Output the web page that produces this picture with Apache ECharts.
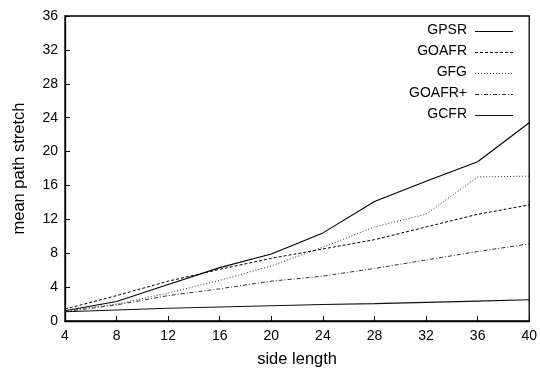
<!DOCTYPE html>
<html><head><meta charset="utf-8">
<script src="https://cdn.jsdelivr.net/npm/echarts@6/dist/echarts.min.js"></script>
<style>html,body{margin:0;padding:0;background:#fff}#c{width:540px;height:373px}</style>
</head><body><div id="c"></div>
<script>
var sideLength = [4, 8, 12, 16, 20, 24, 28, 32, 36, 40];
var gpsr   = [1.2, 2.3, 4.3, 6.3, 7.9, 10.4, 14.1, 16.5, 18.8, 23.4];
var goafr  = [1.4, 3.0, 4.7, 6.1, 7.4, 8.5, 9.6, 11.1, 12.6, 13.7];
var gfg    = [1.2, 2.0, 3.3, 4.8, 6.5, 8.7, 11.1, 12.6, 17.0, 17.1];
var goafrp = [1.1, 1.9, 3.0, 3.8, 4.7, 5.3, 6.2, 7.2, 8.2, 9.1];
var gcfr   = [1.1, 1.3, 1.5, 1.65, 1.8, 1.95, 2.05, 2.2, 2.35, 2.5];
var seriesNames = ['GPSR', 'GOAFR', 'GFG', 'GOAFR+', 'GCFR'];
var yTicks = [0, 36, 4];

function pairs(v){ return sideLength.map(function(x,i){ return [x, v[i]]; }); }
var styles = [
  {color:'#000', type:'solid', width:1.1},
  {color:'#000', type:[3,2], width:1},
  {color:'#333', type:[1,2], width:1},
  {color:'#333', type:[4,2,1,2], width:1},
  {color:'#111', type:'solid', width:1.1}
];
var datas = [gpsr, goafr, gfg, goafrp, gcfr];
var series = datas.map(function(d,i){
  return {name: seriesNames[i], type:'line', data: pairs(d), showSymbol:false, symbol:'none',
    lineStyle: styles[i], itemStyle:{color: styles[i].color}, silent:true, animation:false};
});
var font = 'Liberation Sans, Arial, sans-serif';
var graphics = [];
seriesNames.forEach(function(n,i){
  var y = 31.5 + 21 * i;
  graphics.push({type:'text', right: 540 - 467, top: y - 8, style:{text:n, fill:'#000', font:'14px ' + font, textAlign:'right'}});
  var dash = styles[i].type === 'solid' ? null : styles[i].type;
  graphics.push({type:'line', shape:{x1:475, y1:y, x2:513, y2:y},
    style:{stroke:styles[i].color, lineWidth:styles[i].width, lineDash:dash}});
});
var chart = echarts.init(document.getElementById('c'), null, {renderer:'canvas'});
chart.setOption({
  animation:false,
  backgroundColor:'#fff',
  grid:{left:65, right:10, top:16, bottom:44.5, show:true, borderColor:'#000', borderWidth:1.3},
  graphic: graphics,
  xAxis:{type:'value', min:sideLength[0], max:sideLength[sideLength.length-1], interval:4,
    name:'side length', nameLocation:'middle', nameGap:30,
    nameTextStyle:{fontFamily:font, fontSize:16.5, color:'#000'},
    axisLine:{show:true, lineStyle:{color:'#000', width:1.3}},
    axisTick:{show:true, inside:true, length:5, lineStyle:{color:'#000'}},
    axisLabel:{fontFamily:font, fontSize:14, color:'#000', margin:8},
    splitLine:{show:false}},
  yAxis:{type:'value', min:yTicks[0], max:yTicks[1], interval:yTicks[2],
    name:'mean path stretch', nameLocation:'middle', nameGap:37,
    nameTextStyle:{fontFamily:font, fontSize:16.5, color:'#000'},
    axisLine:{show:true, lineStyle:{color:'#000', width:1.3}},
    axisTick:{show:true, inside:true, length:5, lineStyle:{color:'#000'}},
    axisLabel:{fontFamily:font, fontSize:14, color:'#000', margin:7},
    splitLine:{show:false}},
  series: series
});
</script></body></html>
